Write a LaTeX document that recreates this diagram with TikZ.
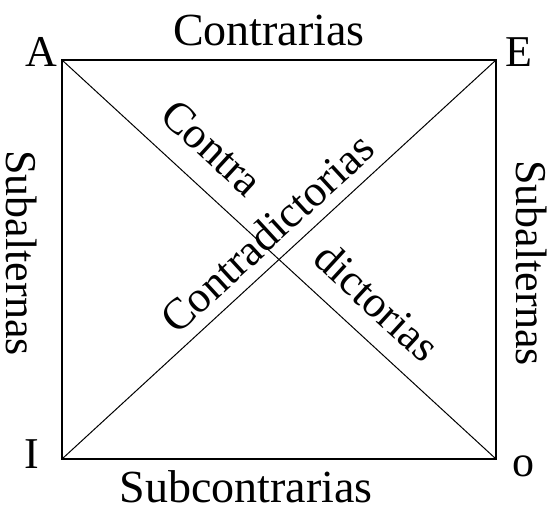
\documentclass[tikz,border=0pt]{standalone}
\usepackage{fontspec}
\setmainfont{Liberation Serif}
\begin{document}
\begin{tikzpicture}[x=1pt,y=-1pt,
  lbl/.style={inner sep=0pt, font=\fontsize{44}{48}\selectfont},
  biglbl/.style={inner sep=0pt, font=\fontsize{46}{50}\selectfont},
  edge/.style={line width=1.6pt, line join=miter},
  diag/.style={line width=1pt}]
\useasboundingbox (0,0) rectangle (548,508);
\coordinate (A) at (62,60);
\coordinate (E) at (496,60);
\coordinate (O) at (496,459);
\coordinate (I) at (62,459);
\draw[edge] (A) -- (E) -- (O) -- (I) -- cycle;
\draw[diag] (A) -- (O);
\draw[diag] (I) -- (E);
\node[lbl, anchor=base] (lA) at (41.5,67) {A};
\node[lbl, anchor=base] (lE) at (518.5,67) {E};
\node[lbl, anchor=base] (lI) at (32,468) {I};
\node[lbl, anchor=base] (lO) at (523,476) {o};
\node[biglbl, anchor=base] (top) at (269,46) {Contrarias};
\node[biglbl, anchor=base] (bottom) at (246,502) {Subcontrarias};
\node[lbl, rotate=-90] (left) at (22,253) {Subalternas};
\node[lbl, rotate=-90] (right) at (532,263) {Subalternas};
\node[lbl, rotate=-42.6] (contra) at (212,148) {Contra};
\node[lbl, rotate=-42.6] (dict) at (377,302) {dictorias};
\node[lbl, rotate=42.6] (cd) at (267,233) {Contradictorias};
\end{tikzpicture}
\end{document}
